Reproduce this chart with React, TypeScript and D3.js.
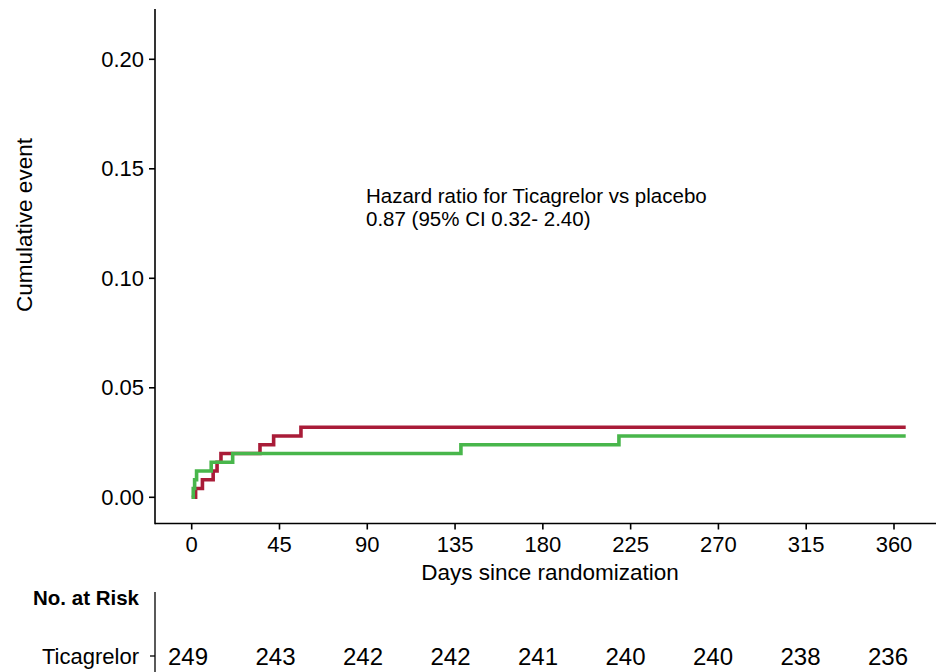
import React from "react";
import * as d3 from "d3";

// ---- data ----
const xTicks = [0, 45, 90, 135, 180, 225, 270, 315, 360];
const yTicks = [0, 0.05, 0.1, 0.15, 0.2];
const yTickLabels = ["0.00", "0.05", "0.10", "0.15", "0.20"];

// Placebo (red)
const placeboDays = [0, 2, 5.5, 11, 13, 15, 35, 42, 56, 366];
const placeboCum = [0, 0.004, 0.008, 0.012, 0.016, 0.02, 0.024, 0.028, 0.032, 0.032];

// Ticagrelor (green)
const ticaDays = [0, 0.8, 1.5, 2.5, 10, 21, 138, 219, 366];
const ticaCum = [0, 0.004, 0.008, 0.012, 0.016, 0.02, 0.024, 0.028, 0.028];

const riskDays = [0, 45, 90, 135, 180, 225, 270, 315, 360];
const riskTicagrelor = [249, 243, 242, 242, 241, 240, 240, 238, 236];

const hrLine1 = "Hazard ratio for Ticagrelor vs placebo";
const hrLine2 = "0.87 (95% CI 0.32- 2.40)";

const RED = "#A91C38";
const GREEN = "#48B64B";
const FONT = "'Liberation Sans', Arial, Helvetica, sans-serif";

export default function App() {
  const W = 936;
  const H = 672;
  const x = d3.scaleLinear().domain([0, 360]).range([191.7, 894]);
  const y = d3.scaleLinear().domain([0, 0.2]).range([497.3, 59.3]);
  const xRisk = d3.scaleLinear().domain([0, 360]).range([188, 888]);

  const axisLeft = 155;
  const axisBottom = 523.5;

  const line = d3
    .line<[number, number]>()
    .x((d) => x(d[0]))
    .y((d) => y(d[1]))
    .curve(d3.curveStepAfter);

  const redPts = placeboDays.map((d, i) => [d, placeboCum[i]] as [number, number]);
  const greenPts = ticaDays.map((d, i) => [d, ticaCum[i]] as [number, number]);

  return (
    <svg
      width={W}
      height={H}
      style={{ position: "absolute", left: 0, top: 0, background: "#fff" }}
      fontFamily={FONT}
    >
      <rect x={0} y={0} width={W} height={H} fill="#fff" />
      {/* curves */}
      <path d={line(redPts) || ""} fill="none" stroke={RED} strokeWidth={3.6} />
      <path d={line(greenPts) || ""} fill="none" stroke={GREEN} strokeWidth={3.6} />

      {/* y axis */}
      <line x1={axisLeft} x2={axisLeft} y1={9} y2={axisBottom + 0.7} stroke="#000" strokeWidth={1.6} />
      {yTicks.map((t, i) => (
        <g key={"y" + i}>
          <line x1={axisLeft - 6} x2={axisLeft} y1={y(t)} y2={y(t)} stroke="#000" strokeWidth={1.6} />
          <text
            x={axisLeft - 11}
            y={y(t)}
            textAnchor="end"
            dominantBaseline="central"
            fontSize={22}
            fill="#000"
          >
            {yTickLabels[i]}
          </text>
        </g>
      ))}

      {/* x axis */}
      <line x1={axisLeft} x2={W} y1={axisBottom} y2={axisBottom} stroke="#000" strokeWidth={1.6} />
      {xTicks.map((t, i) => (
        <g key={"x" + i}>
          <line x1={x(t)} x2={x(t)} y1={axisBottom} y2={axisBottom + 6} stroke="#000" strokeWidth={1.6} />
          <text x={x(t)} y={544} textAnchor="middle" dominantBaseline="central" fontSize={22} fill="#000">
            {t}
          </text>
        </g>
      ))}

      {/* axis titles */}
      <text x={550} y={572} textAnchor="middle" dominantBaseline="central" fontSize={22.5} fill="#000">
        Days since randomization
      </text>
      <text
        transform={`translate(24.5,225) rotate(-90)`}
        textAnchor="middle"
        dominantBaseline="central"
        fontSize={22.5}
        fill="#000"
      >
        Cumulative event
      </text>

      {/* annotation */}
      <text x={366} y={195} dominantBaseline="central" fontSize={20.5} fill="#000">
        {hrLine1}
      </text>
      <text x={366} y={218} dominantBaseline="central" fontSize={20.5} fill="#000">
        {hrLine2}
      </text>

      {/* risk table */}
      <text x={139} y={597} textAnchor="end" dominantBaseline="central" fontSize={20.5} fontWeight="bold" fill="#000">
        No. at Risk
      </text>
      <line x1={axisLeft} x2={axisLeft} y1={592} y2={H} stroke="#000" strokeWidth={1.3} />
      <line x1={axisLeft - 5} x2={axisLeft} y1={656} y2={656} stroke="#000" strokeWidth={1.3} />
      <text x={139} y={656} textAnchor="end" dominantBaseline="central" fontSize={22} fill="#000">
        Ticagrelor
      </text>
      {riskDays.map((d, i) => (
        <text
          key={"r" + i}
          x={xRisk(d)}
          y={656}
          textAnchor="middle"
          dominantBaseline="central"
          fontSize={24}
          fill="#000"
        >
          {riskTicagrelor[i]}
        </text>
      ))}
    </svg>
  );
}
